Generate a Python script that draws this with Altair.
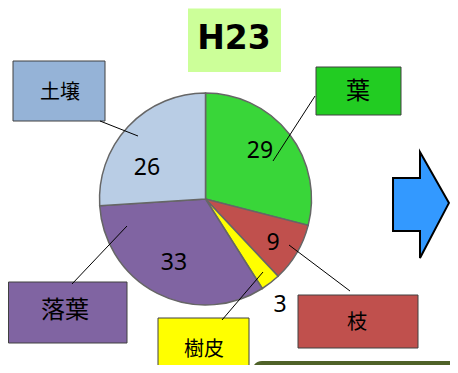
import altair as alt
import pandas as pd

# ---- data ----
parts = ["葉", "枝", "樹皮", "落葉", "土壌"]
values = [29, 9, 3, 33, 26]
pie_colors = ["#39D639", "#C0504D", "#FFFF00", "#8064A2", "#B9CDE5"]
box_colors = ["#22CC22", "#C0504D", "#FFFF00", "#8064A2", "#95B3D7"]
title_text = "H23"

# ---- layout (page pixels) ----
CX, CY, R = 205.5, 199, 106
num_pos = [(260, 151), (273, 243), (280, 305), (174, 263), (147, 168)]
boxes = [(316, 67, 401, 115), (298, 295, 418, 348), (158, 318, 249, 385),
         (8.5, 282, 127, 343), (13, 61, 105, 121)]
box_text = [(358, 92, 24), (357, 323, 20), (204, 350, 20), (65, 311, 24), (60, 93, 20)]
leaders = [(315, 96, 273, 161), (289, 245, 350, 291), (263, 272, 222, 320),
           (127, 226, 72, 284), (100, 121, 138, 136)]
title_box = (188, 8.5, 281, 72)
title_pos = (234, 39)
# arrow as a custom symbol in a [-1, 1] box; half-size 53 px
arrow_center = (421, 205)
arrow_half = 53
arrow_path = ("M -0.528 -0.509 L -0.019 -0.509 L -0.019 -1 L 0.528 -0.04 "
              "L -0.019 1 L -0.019 0.491 L -0.528 0.491 Z")
bar = (252, 361, 480, 390)

X0, Y0 = 8, 8
W, H = 442, 357
xs = alt.Scale(domain=[X0, X0 + W], nice=False, zero=False)
ys = alt.Scale(domain=[Y0, Y0 + H], nice=False, zero=False, reverse=True)

def X(f):
    return alt.X(f, type="quantitative", scale=xs, axis=None)

def Y(f):
    return alt.Y(f, type="quantitative", scale=ys, axis=None)

pie_df = pd.DataFrame({"part": parts, "value": values, "idx": range(len(parts))})
pie = alt.Chart(pie_df).mark_arc(radius=R, stroke="#666666", strokeWidth=1.5).encode(
    theta=alt.Theta("value:Q", stack=True),
    order=alt.Order("idx:Q"),
    color=alt.Color("part:N", scale=alt.Scale(domain=parts, range=pie_colors), legend=None),
    x=alt.value(CX - X0),
    y=alt.value(CY - Y0),
)

num_df = pd.DataFrame({
    "x": [p[0] for p in num_pos], "y": [p[1] for p in num_pos],
    "t": [str(v) for v in values],
})
nums = alt.Chart(num_df).mark_text(font="Noto Sans", fontSize=23, color="black").encode(
    x=X("x"), y=Y("y"), text="t:N"
)

box_df = pd.DataFrame({
    "part": parts,
    "x1": [b[0] for b in boxes], "y1": [b[1] for b in boxes],
    "x2": [b[2] for b in boxes], "y2": [b[3] for b in boxes],
})
box_layer = alt.Chart(box_df).mark_rect(stroke="#404040", strokeWidth=1).encode(
    x=X("x1"), x2="x2", y=Y("y1"), y2="y2",
    fill=alt.Fill("part:N", scale=alt.Scale(domain=parts, range=box_colors), legend=None),
)

lab_df = pd.DataFrame({
    "t": parts, "x": [b[0] for b in box_text], "y": [b[1] for b in box_text],
    "fs": [b[2] for b in box_text],
})
labels = alt.Chart(lab_df).mark_text(font="Noto Sans CJK JP", color="black").encode(
    x=X("x"), y=Y("y"), text="t:N", size=alt.Size("fs:Q", scale=None)
)

lead_df = pd.DataFrame({
    "x1": [l[0] for l in leaders], "y1": [l[1] for l in leaders],
    "x2": [l[2] for l in leaders], "y2": [l[3] for l in leaders],
})
lead = alt.Chart(lead_df).mark_rule(color="black", strokeWidth=1).encode(
    x=X("x1"), y=Y("y1"), x2="x2", y2="y2"
)

tb_df = pd.DataFrame({"x1": [title_box[0]], "y1": [title_box[1]],
                      "x2": [title_box[2]], "y2": [title_box[3]]})
tbox = alt.Chart(tb_df).mark_rect(fill="#CCFF99").encode(
    x=X("x1"), x2="x2", y=Y("y1"), y2="y2")

tt_df = pd.DataFrame({"x": [title_pos[0]], "y": [title_pos[1]], "t": [title_text]})
ttext = alt.Chart(tt_df).mark_text(font="DejaVu Sans", fontSize=33, fontWeight="bold",
                                   color="black").encode(x=X("x"), y=Y("y"), text="t:N")

ar_df = pd.DataFrame({"x": [arrow_center[0]], "y": [arrow_center[1]]})
arr = alt.Chart(ar_df).mark_point(
    shape=arrow_path, size=(2 * arrow_half) ** 2, filled=True, fill="#3399FF",
    stroke="black", strokeWidth=2, opacity=1, fillOpacity=1, strokeOpacity=1,
).encode(x=X("x"), y=Y("y"))

bar_df = pd.DataFrame({"x1": [bar[0]], "y1": [bar[1]], "x2": [bar[2]], "y2": [bar[3]]})
barl = alt.Chart(bar_df).mark_rect(fill="#4F6228", cornerRadius=10).encode(
    x=X("x1"), x2="x2", y=Y("y1"), y2="y2")

chart = alt.layer(pie, box_layer, lead, nums, labels, tbox, ttext, arr, barl).properties(
    width=W, height=H, padding=0, autosize=alt.AutoSizeParams(type="none")
).configure_view(stroke=None)

chart.save("out.html", embed_options={"renderer": "svg", "actions": False})
